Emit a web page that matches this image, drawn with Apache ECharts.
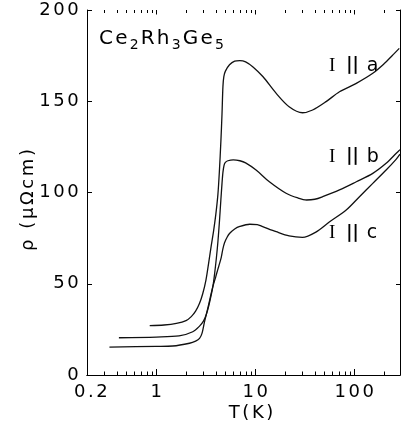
<!DOCTYPE html>
<html>
<head>
<meta charset="utf-8">
<script src="https://cdn.jsdelivr.net/npm/echarts@6/dist/echarts.min.js"></script>
<style>
  html, body { margin: 0; padding: 0; background: #fff; }
  #chart { width: 401px; height: 433px; }
</style>
</head>
<body>
<div id="chart"></div>
<script>
// Resistivity of Ce2Rh3Ge5 vs temperature for current along a, b and c.
const tA   = [0.86, 1.2, 1.6, 2.0, 2.26, 2.5, 2.74, 2.95, 3.18, 3.4, 3.6, 3.8, 4.0, 4.2, 4.35, 4.5, 4.62, 4.72, 4.82, 5.0, 5.5, 6.2, 7.0, 8.0, 9.5, 12, 16.3, 22, 30, 38, 52, 71, 105, 154, 200, 240, 285];
const rhoA = [27, 27.4, 28.3, 29.8, 32, 35, 39.3, 44.5, 52, 62, 71, 79, 88, 99, 112, 128, 143, 158, 163.5, 166.5, 170, 172, 172.3, 171.6, 168.8, 163.4, 154.3, 147, 143.7, 145.2, 149.8, 155.2, 159.8, 165.3, 170.5, 174.8, 179];

const tB   = [0.42, 1.0, 1.7, 2.34, 2.74, 3.0, 3.2, 3.4, 3.6, 3.75, 3.9, 4.05, 4.2, 4.35, 4.5, 4.62, 4.72, 4.85, 5.0, 5.3, 6.0, 7.0, 8.0, 10.2, 13.9, 20.5, 27, 33, 40, 48, 71, 105, 154, 210, 266, 290];
const rhoB = [20.4, 20.8, 21.4, 23.7, 26.8, 29.5, 33, 38, 44, 49, 56, 64, 73, 84, 96, 105, 111, 115, 116.5, 117.4, 117.9, 117.4, 116.2, 112.3, 105.9, 99.6, 97, 95.9, 96.3, 97.7, 101.4, 105.9, 110.5, 116, 121.5, 123.5];

const tC   = [0.337, 1.0, 1.47, 2.17, 2.5, 2.74, 2.9, 3.07, 3.3, 3.5, 3.73, 4.0, 4.2, 4.36, 4.54, 4.71, 4.9, 5.2, 5.5, 6.2, 7.0, 8.8, 10.5, 11.9, 16.3, 22, 30, 41, 56, 83, 113, 154, 210, 266, 290];
const rhoC = [15.3, 15.7, 15.9, 17.4, 18.6, 20.1, 22.8, 29, 36, 42, 48.4, 54, 58, 61, 64.5, 69, 72.5, 75.5, 77.5, 80, 81.4, 82.6, 82.4, 81.3, 78.5, 76.2, 75.4, 78.3, 83.8, 90.4, 97.7, 105, 112.3, 118.3, 121];

const xLabelValues = [0.2, 1, 10, 100];
const xMajorTicks  = [1, 10, 100];
const xMinorTicks  = [0.3, 0.4, 0.5, 0.6, 0.7, 0.8, 0.9, 2, 3, 4, 5, 6, 7, 8, 9, 20, 30, 40, 50, 60, 70, 80, 90, 200];

const X_MIN = 0.2, X_MAX = 290, Y_MIN = 0, Y_MAX = 200;
const FONT = 'DejaVu Sans';
const INK = '#000';

// wrap every character in its own rich token so the glyphs get a little tracking
function spaced(str, key) {
  return str.split('').map(ch => '{' + key + '|' + ch + '}').join('');
}
const digitStyle = { fontFamily: FONT, fontSize: 18, color: INK, padding: [0, 1.3, 0, 1.3] };

function curve(t, rho) {
  return {
    type: 'line',
    data: t.map((v, i) => [v, rho[i]]),
    showSymbol: false,
    smooth: 0.3,
    lineStyle: { color: '#111', width: 1.3 },
    silent: true
  };
}

// log-axis tick marks on the bottom and top frame edges, placed through the axis scale
const tickData = xMajorTicks.map(v => [v, 1]).concat(xMinorTicks.map(v => [v, 0]));
const tickSeries = {
  type: 'custom',
  data: tickData,
  clip: false,
  silent: true,
  z: 3,
  renderItem: function (params, api) {
    const v = api.value(0);
    const major = api.value(1) === 1;
    const bottom = api.coord([v, Y_MIN]);
    const top = api.coord([v, Y_MAX]);
    const lb = major ? 6 : 3.5;
    const lt = major ? 4.5 : 3;
    const x = Math.round(bottom[0]) + 0.5;
    return {
      type: 'group',
      children: [
        { type: 'line', shape: { x1: x, y1: bottom[1], x2: x, y2: bottom[1] - lb }, style: { stroke: INK, lineWidth: 1 } },
        { type: 'line', shape: { x1: x, y1: top[1], x2: x, y2: top[1] + lt }, style: { stroke: INK, lineWidth: 1 } }
      ]
    };
  }
};

const chart = echarts.init(document.getElementById('chart'), null, { renderer: 'canvas' });

chart.setOption({
  animation: false,
  backgroundColor: '#fff',
  grid: { left: 87, right: 1, top: 10, bottom: 58, containLabel: false },
  xAxis: [
    {
      type: 'log', min: X_MIN, max: X_MAX, logBase: 10, position: 'bottom',
      splitLine: { show: false },
      axisLine: { show: true, lineStyle: { color: INK, width: 1 } },
      axisTick: { show: false },
      axisLabel: {
        show: true, customValues: xLabelValues, margin: 8,
        formatter: v => (v < 1 ? spaced('0', 'f') + spaced('.2', 'd') : spaced(String(v), 'd')),
        rich: { d: digitStyle, f: Object.assign({}, digitStyle, { padding: [0, 1.3, 0, 9] }) }
      }
    },
    {
      type: 'log', min: X_MIN, max: X_MAX, logBase: 10, position: 'top',
      splitLine: { show: false },
      axisLine: { show: true, lineStyle: { color: INK, width: 1 } },
      axisTick: { show: false },
      axisLabel: { show: false }
    }
  ],
  yAxis: [
    {
      type: 'value', min: Y_MIN, max: Y_MAX, interval: 50, position: 'left',
      splitLine: { show: false },
      axisLine: { show: true, lineStyle: { color: INK, width: 1 } },
      axisTick: { show: true, inside: true, length: 5, lineStyle: { color: INK } },
      axisLabel: {
        margin: 7,
        formatter: v => spaced(String(v), 'd'),
        rich: { d: digitStyle }
      }
    },
    {
      type: 'value', min: Y_MIN, max: Y_MAX, interval: 50, position: 'right',
      splitLine: { show: false },
      axisLine: { show: true, lineStyle: { color: INK, width: 1 } },
      axisTick: { show: true, inside: true, length: 4, lineStyle: { color: INK } },
      axisLabel: { show: false }
    }
  ],
  series: [curve(tA, rhoA), curve(tB, rhoB), curve(tC, rhoC), tickSeries],
  graphic: [
    {
      type: 'text', left: 99, top: 29,
      style: {
        text: spaced('Ce', 'm') + '{s|2}' + spaced('Rh', 'm') + '{s|3}' + spaced('Ge', 'm') + '{s|5}',
        rich: {
          m: { fontFamily: FONT, fontSize: 20, color: INK, padding: [0, 2.2, 0, 0] },
          s: { fontFamily: FONT, fontSize: 14, color: INK, padding: [12, 2.2, 0, 0] }
        }
      }
    },
    {
      type: 'text', x: 251, y: 413,
      style: {
        text: spaced('T(K)', 'd'), textAlign: 'center', textVerticalAlign: 'middle',
        rich: { d: digitStyle }
      }
    },
    {
      type: 'text', x: 28, y: 200, rotation: Math.PI / 2,
      style: {
        text: spaced('ρ (μΩcm)', 'd'), textAlign: 'center', textVerticalAlign: 'middle',
        rich: { d: digitStyle }
      }
    },
    ...[['a', 66], ['b', 157], ['c', 233.5]].map(([axisName, yc]) => ({
      type: 'text', x: 329, y: yc,
      style: {
        text: '{i|I}{p|||}{l|' + axisName + '}', textAlign: 'left', textVerticalAlign: 'middle',
        rich: {
          i: { fontFamily: 'Liberation Serif', fontSize: 19, color: INK, padding: [0, 11, 0, 0] },
          p: { fontFamily: FONT, fontSize: 17, fontWeight: 'bold', color: INK, padding: [0, 8, 0, 0] },
          l: { fontFamily: FONT, fontSize: 19, color: INK }
        }
      }
    }))
  ]
});
</script>
</body>
</html>
